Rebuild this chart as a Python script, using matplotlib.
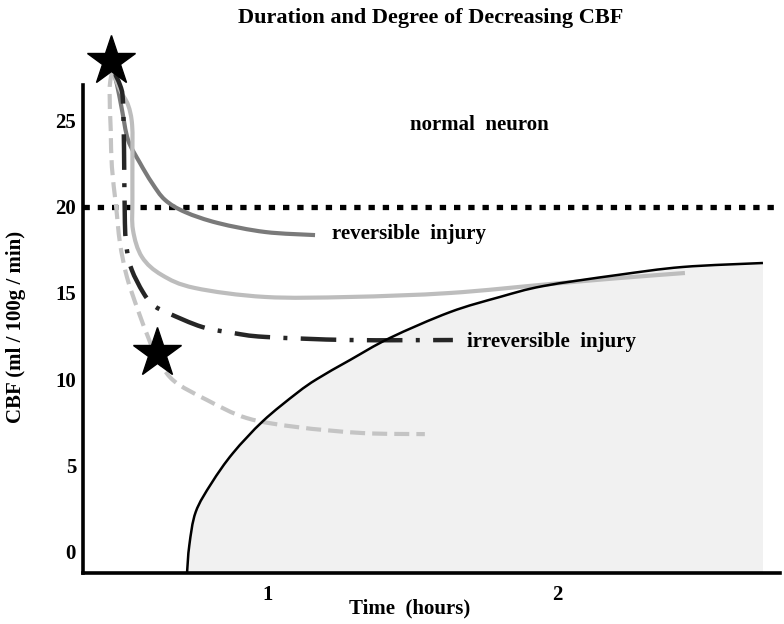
import numpy as np
import matplotlib
matplotlib.use('Agg')
import matplotlib.pyplot as plt
from matplotlib.path import Path
from matplotlib.patches import PathPatch

plt.rcParams['font.family'] = ['Liberation Serif', 'DejaVu Serif']
plt.rcParams['font.weight'] = 'bold'
plt.rcParams['axes.labelweight'] = 'bold'

# curves (time in hours, CBF in ml/100g/min)
rev_t = [0.464, 0.478, 0.495, 0.516, 0.557, 0.599, 0.644, 0.713, 0.827, 0.990, 1.163]
rev_v = [27.94, 27.07, 25.62, 23.88, 22.55, 21.38, 20.40, 19.70, 19.06, 18.54, 18.36]

solid_t = [0.464, 0.488, 0.516, 0.530, 0.531, 0.531, 0.533, 0.564, 0.633, 0.747,
           0.990, 1.284, 1.630, 1.976, 2.218, 2.443]
solid_v = [27.82, 26.78, 25.91, 24.75, 22.72, 20.40, 18.65, 17.09, 16.04, 15.29,
           14.77, 14.77, 15.00, 15.52, 15.87, 16.16]

irr_t = [0.464, 0.488, 0.498, 0.502, 0.505, 0.512, 0.529, 0.567, 0.602, 0.654,
         0.772, 0.879, 0.990, 1.284, 1.640]
irr_v = [27.94, 27.07, 26.20, 23.30, 19.06, 17.49, 16.33, 15.06, 14.31, 13.84,
         13.03, 12.68, 12.45, 12.27, 12.27]

dash_t = [0.460, 0.452, 0.456, 0.460, 0.474, 0.488, 0.512, 0.550, 0.585, 0.612,
          0.671, 0.789, 0.927, 1.100, 1.329, 1.543]
dash_v = [27.82, 26.78, 24.46, 22.31, 20.11, 17.90, 15.93, 14.01, 12.45, 11.40,
          9.95, 8.79, 7.74, 7.22, 6.87, 6.81]

# infarction boundary
bnd_t = [0.720, 0.728, 0.750, 0.805, 0.879, 0.983, 1.100, 1.170, 1.284, 1.422,
         1.630, 1.803, 1.952, 2.208, 2.436, 2.713]
bnd_v = [-1.25, 0.37, 2.29, 3.97, 5.71, 7.57, 9.19, 10.01, 11.11, 12.39,
         13.89, 14.77, 15.40, 16.04, 16.51, 16.74]

star_t = [0.457, 0.616]
star_v = [28.45, 11.49]

threshold = 20
x_ticks = [1, 2]
y_ticks = [0, 5, 10, 15, 20, 25]
x_lim = (0.360, 2.772)
y_lim = (-1.25, 27.07)


def smooth_path(xs, ys):
    # catmull-rom through the read points, drawn as cubic bezier pieces
    p = np.column_stack([xs, ys]).astype(float)
    p = np.vstack([p[0], p, p[-1]])
    verts = [p[1]]
    codes = [Path.MOVETO]
    for i in range(1, len(p) - 2):
        c1 = p[i] + (p[i + 1] - p[i - 1]) / 6.0
        c2 = p[i + 1] - (p[i + 2] - p[i]) / 6.0
        verts += [c1, c2, p[i + 1]]
        codes += [Path.CURVE4] * 3
    return Path(verts, codes)


fig = plt.figure(figsize=(7.84, 6.24), dpi=100)
ax = fig.add_axes([83 / 784, 51 / 624, 697 / 784, 488 / 624])

bpath = smooth_path(bnd_t, bnd_v)
fill_verts = list(bpath.vertices) + [(bnd_t[-1], y_lim[0]), (bnd_t[0], y_lim[0])]
fill_codes = list(bpath.codes) + [Path.LINETO, Path.CLOSEPOLY]
ax.add_patch(PathPatch(Path(fill_verts, fill_codes), facecolor='#f1f1f1',
                       edgecolor='none', zorder=1))

ax.axhline(threshold, color='black', lw=3.8, linestyle=(0, (1.2, 1.5)),
           dash_capstyle='butt', zorder=1.5)

styles = [
    (rev_t, rev_v, '#7a7a7a', 3.0, '-'),
    (solid_t, solid_v, '#bdbdbd', 3.0, '-'),
    (irr_t, irr_v, '#262626', 3.2, (0, (8, 3, 0.9, 3))),
    (dash_t, dash_v, '#c4c4c4', 3.0, (0, (3.6, 1.7))),
]
for xs, ys, col, lw, ls in styles:
    ax.add_patch(PathPatch(smooth_path(xs, ys), facecolor='none', edgecolor=col,
                           lw=lw, linestyle=ls, capstyle='butt', clip_on=False,
                           zorder=2))

ax.add_patch(PathPatch(bpath, facecolor='none', edgecolor='black', lw=1.8,
                       zorder=3))

ax.plot(star_t, star_v, linestyle='none', marker='*', markersize=37,
        color='black', clip_on=False, zorder=5)

ax.text(1.730, 24.75, 'normal  neuron', fontsize=15, ha='center', va='center')
ax.text(1.221, 18.45, 'reversible  injury', fontsize=15, ha='left', va='center')
ax.text(1.689, 12.15, 'irreversible  injury', fontsize=15, ha='left', va='center')

ax.set_xlim(*x_lim)
ax.set_ylim(*y_lim)
ax.set_xticks(x_ticks)
ax.set_yticks(y_ticks)
ax.tick_params(length=0, labelsize=15)
ax.tick_params(axis='x', pad=9)
ax.tick_params(axis='y', pad=5)

for s in ['top', 'right']:
    ax.spines[s].set_visible(False)
for s in ['left', 'bottom']:
    ax.spines[s].set_linewidth(2.6)

ax.set_xlabel('Time  (hours)', fontsize=15, fontweight='bold')
ax.xaxis.set_label_coords(0.468, -0.052)
ax.set_ylabel('CBF (ml / 100g / min)', fontsize=15, fontweight='bold')
ax.yaxis.set_label_coords(-0.082, 0.504)

fig.text(431 / 784, 1 - 18 / 624, 'Duration and Degree of Decreasing CBF',
         fontsize=16, fontweight='bold', ha='center', va='center')

plt.savefig('out.png', dpi=100)
